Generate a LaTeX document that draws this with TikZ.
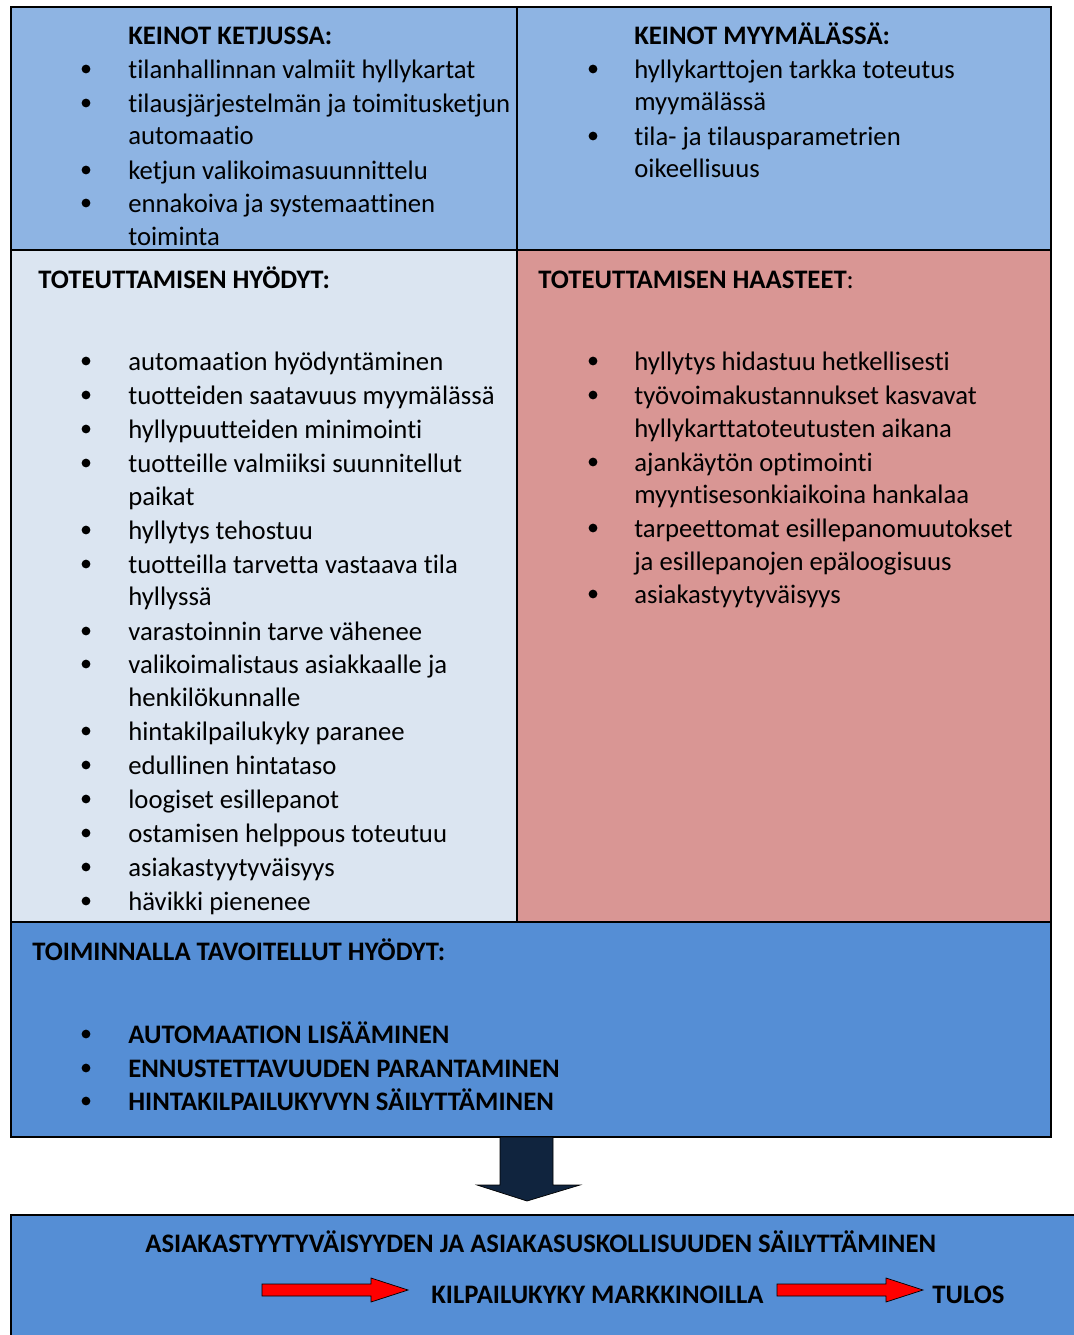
\documentclass[tikz,border=0pt]{standalone}
\usepackage{fontspec}
\setmainfont[Ligatures=NoCommon]{Carlito}
\usetikzlibrary{calc}
\definecolor{midblue}{HTML}{8EB4E3}
\definecolor{paleblue}{HTML}{DBE5F1}
\definecolor{rosy}{HTML}{D99694}
\definecolor{deepblue}{HTML}{558ED5}
\definecolor{navy}{HTML}{10243E}
\definecolor{arrowred}{HTML}{FF0000}

\begin{document}
\begin{tikzpicture}[x=0.02cm,y=-0.02cm,
    txt/.style={anchor=mid west,inner sep=0pt,yshift=-3pt,font=\fontsize{15.2}{18}\selectfont},
    head/.style={txt,font=\fontsize{15.2}{18}\selectfont\bfseries},
    dot/.style={circle,fill=black,inner sep=0pt,minimum size=5pt},
    cell/.style={draw=black,line width=1.1pt}]
    \useasboundingbox (0,0) rectangle (1074,1335);

    % cells
    \filldraw[cell,fill=midblue] (11,7) rectangle (517,250);
    \filldraw[cell,fill=midblue] (517,7) rectangle (1051,250);
    \filldraw[cell,fill=paleblue] (11,250) rectangle (517,922);
    \filldraw[cell,fill=rosy] (517,250) rectangle (1051,922);
    \filldraw[cell,fill=deepblue] (11,922) rectangle (1051,1137);
    \filldraw[cell,fill=deepblue] (11,1215) rectangle (1090,1350);

    % keinot ketjussa
    \node[head] (kk) at (128,35) {KEINOT KETJUSSA:};
    \foreach \y/\t in {69/tilanhallinnan valmiit hyllykartat,
        103/tilausjärjestelmän ja toimitusketjun,135/automaatio,
        170/ketjun valikoimasuunnittelu,203/ennakoiva ja systemaattinen,236/toiminta}
        \node[txt] (kk\y) at (128,\y) {\t};
    \foreach \y in {69,103,170,203}
        \node[dot] (kkb\y) at (86,\y) {};

    % keinot myymalassa
    \node[head] (km) at (634,35) {KEINOT MYYMÄLÄSSÄ:};
    \foreach \y/\t in {69/hyllykarttojen tarkka toteutus,101/myymälässä,
        136/tila- ja tilausparametrien,168/oikeellisuus}
        \node[txt] (km\y) at (634,\y) {\t};
    \foreach \y in {69,136}
        \node[dot] (kmb\y) at (593,\y) {};

    % hyodyt
    \node[head] (th) at (38,279) {TOTEUTTAMISEN HYÖDYT:};
    \foreach \y/\t in {361/automaation hyödyntäminen,395/tuotteiden saatavuus myymälässä,
        429/hyllypuutteiden minimointi,463/tuotteille valmiiksi suunnitellut,496/paikat,
        530/hyllytys tehostuu,564/tuotteilla tarvetta vastaava tila,596/hyllyssä,
        631/varastoinnin tarve vähenee,664/valikoimalistaus asiakkaalle ja,
        697/henkilökunnalle,731/hintakilpailukyky paranee,765/edullinen hintataso,
        799/loogiset esillepanot,833/ostamisen helppous toteutuu,
        867/asiakastyytyväisyys,901/hävikki pienenee}
        \node[txt] (th\y) at (128,\y) {\t};
    \foreach \y in {361,395,429,463,530,564,631,664,731,765,799,833,867,901}
        \node[dot] (thb\y) at (86,\y) {};

    % haasteet
    \node[txt] (ta) at (538,279) {\textbf{TOTEUTTAMISEN HAASTEET}:};
    \foreach \y/\t in {361/hyllytys hidastuu hetkellisesti,395/työvoimakustannukset kasvavat,
        428/hyllykarttatoteutusten aikana,462/ajankäytön optimointi,
        494/myyntisesonkiaikoina hankalaa,528/tarpeettomat esillepanomuutokset,
        561/ja esillepanojen epäloogisuus,594/asiakastyytyväisyys}
        \node[txt] (ta\y) at (634,\y) {\t};
    \foreach \y in {361,395,462,528,594}
        \node[dot] (tab\y) at (593,\y) {};

    % tavoitellut hyodyt
    \node[head] (tt) at (32,951) {TOIMINNALLA TAVOITELLUT HYÖDYT:};
    \foreach \y/\t in {1034/AUTOMAATION LISÄÄMINEN,1068/ENNUSTETTAVUUDEN PARANTAMINEN,
        1101/HINTAKILPAILUKYVYN SÄILYTTÄMINEN}{
        \node[head] (tt\y) at (128,\y) {\t};
        \node[dot] (ttb\y) at (86,\y) {};
    }

    % big arrow down
    \filldraw[fill=navy,draw=black,thin] (500,1137) -- (553,1137) -- (553,1185) -- (580,1185)
        -- (527,1201) -- (477,1185) -- (500,1185) -- cycle;

    % result
    \node[head] (as) at (145,1243) {ASIAKASTYYTYVÄISYYDEN JA ASIAKASUSKOLLISUUDEN SÄILYTTÄMINEN};
    \node[head] (ki) at (431,1294) {KILPAILUKYKY MARKKINOILLA};
    \node[head] (tu) at (932,1294) {TULOS};
    \foreach \x in {262,777}
        \filldraw[fill=arrowred,draw=black,thin] (\x,1284) -- ++(109,0) -- ++(0,-6) -- ++(37,12)
            -- ++(-37,12) -- ++(0,-6) -- ++(-109,0) -- cycle;
\end{tikzpicture}
\end{document}
